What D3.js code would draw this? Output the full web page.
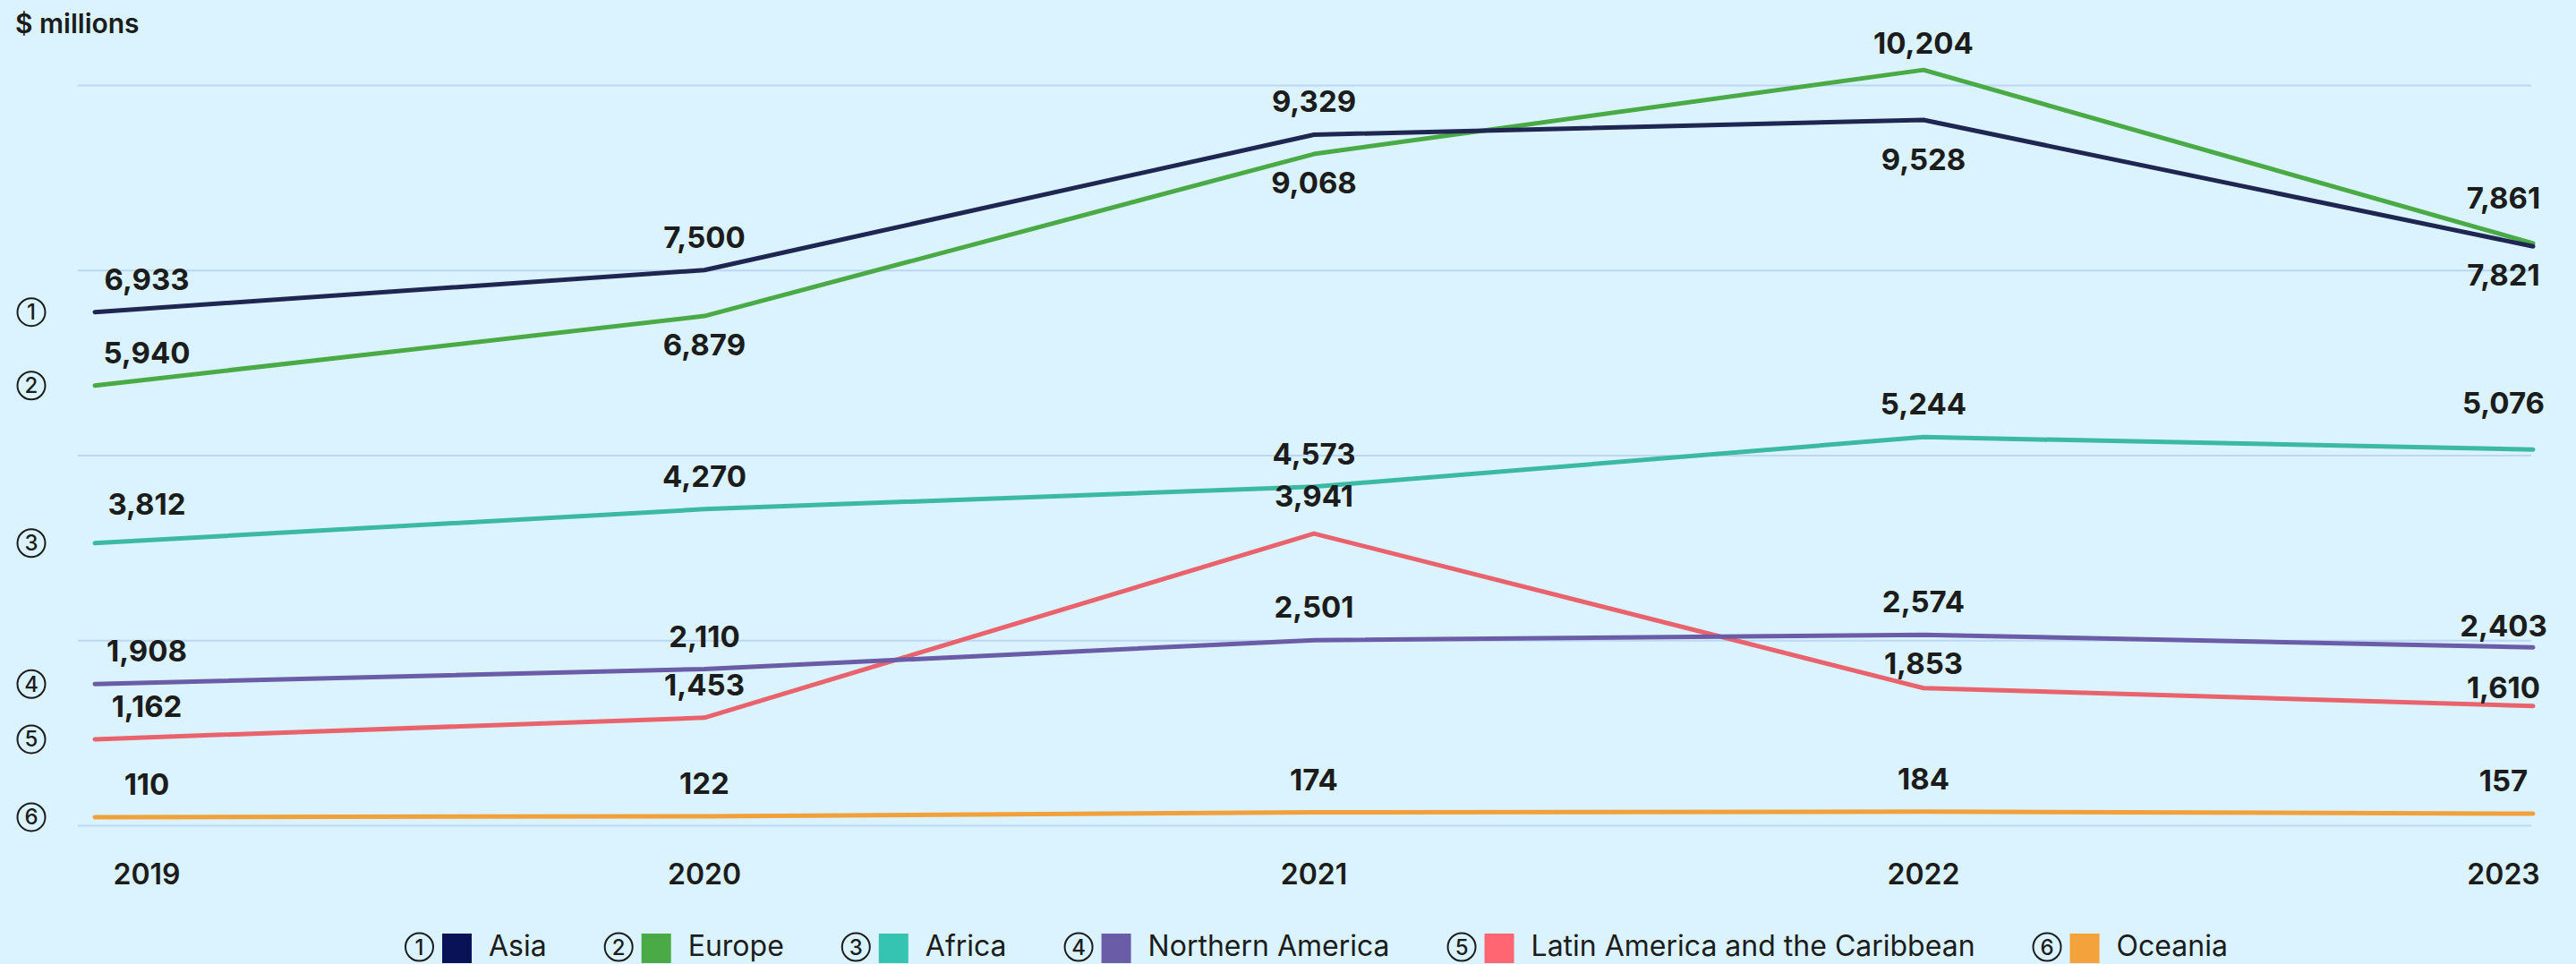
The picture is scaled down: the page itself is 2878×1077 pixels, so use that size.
<!DOCTYPE html>
<html>
<head>
<meta charset="utf-8">
<script src="https://cdn.jsdelivr.net/npm/d3@7"></script>
<style>
  html, body { margin: 0; padding: 0; background: #daf3fe; }
  svg { display: block; font-family: Inter, "Noto Sans", sans-serif; }
</style>
</head>
<body>
<div id="vis"></div>
<script>
// values in $ millions
const years = ["2019", "2020", "2021", "2022", "2023"];
const regions = ["Asia", "Europe", "Africa", "Northern America", "Latin America and the Caribbean", "Oceania"];
const asia = [6933, 7500, 9329, 9528, 7821];
const europe = [5940, 6879, 9068, 10204, 7861];
const africa = [3812, 4270, 4573, 5244, 5076];
const northAmerica = [1908, 2110, 2501, 2574, 2403];
const latinAmerica = [1162, 1453, 3941, 1853, 1610];
const oceania = [110, 122, 174, 184, 157];
const yTicks = [0, 2500, 5000, 7500, 10000];

const lineColors = ["#1f2651", "#4aaa46", "#3bb9a3", "#6a5ca6", "#e9636d", "#f2a13a"];
const swatchColors = ["#0a1257", "#4aaa46", "#35c4b2", "#6a5ca6", "#ff6671", "#f4a23b"];
// which value labels go under the line instead of above it
const labelsBelow = { "Asia": ["2022", "2023"], "Europe": ["2020", "2021"] };
// small label nudges (px) so labels clear the lines like the original
const labelNudge = {
    "Asia-2022": 12,
    "Europe-2022": 7,
    "Europe-2023": -14,
    "Africa-2019": -7,
    "Africa-2023": -15,
    "Northern America-2023": 13,
    "Latin America and the Caribbean-2021": -5,
    "Latin America and the Caribbean-2022": 9,
    "Latin America and the Caribbean-2023": 16
};

const series = [asia, europe, africa, northAmerica, latinAmerica, oceania].map((vals, i) => ({
    name: regions[i],
    num: i + 1,
    color: lineColors[i],
    swatch: swatchColors[i],
    values: vals.map((v, j) => ({ year: years[j], value: v }))
}));

const width = 2878, height = 1077;
const gridLeft = 87, gridRight = 2828;

const svg = d3.select("#vis")
    .append("svg")
    .attr("width", width)
    .attr("height", height);

svg.append("rect")
    .attr("width", width)
    .attr("height", height)
    .attr("fill", "#daf3fe");

var x = d3.scalePoint().domain(years).range([106, 2830]);
var y = d3.scaleLinear().domain([0, 10000]).range([922, 95]);

// gridlines
var yAxis = d3.axisLeft(y).tickValues(yTicks).tickSize(-(gridRight - gridLeft)).tickFormat("");
svg.append("g")
    .attr("class", "grid")
    .attr("transform", "translate(" + gridLeft + ",0)")
    .call(yAxis)
    .call(g => g.select(".domain").remove())
    .call(g => g.selectAll("line").attr("stroke", "#bdd6f3").attr("stroke-width", 2));

// unit label
svg.append("text")
    .attr("x", 17)
    .attr("y", 37)
    .attr("font-size", 30)
    .attr("font-weight", 600)
    .attr("fill", "#1c1c1c")
    .text("$ millions");

// edge labels are pulled inward
const labelX = d => Math.min(Math.max(x(d), 164), 2797);

// year labels
svg.append("g")
    .selectAll("text")
    .data(years)
    .enter()
    .append("text")
    .attr("x", d => labelX(d))
    .attr("y", 988)
    .attr("text-anchor", "middle")
    .attr("font-size", 32)
    .attr("font-weight", 600)
    .attr("fill", "#1c1c1c")
    .text(d => d);

// lines, Oceania first so Asia ends on top
const line = d3.line()
    .x(d => x(d.year))
    .y(d => y(d.value));

svg.append("g")
    .selectAll("path")
    .data(series.slice().reverse())
    .enter()
    .append("path")
    .attr("d", d => line(d.values))
    .attr("fill", "none")
    .attr("stroke", d => d.color)
    .attr("stroke-width", 5)
    .attr("stroke-linecap", "round")
    .attr("stroke-linejoin", "round");

// value labels
const fmt = d3.format(",");
series.forEach(s => {
    const below = labelsBelow[s.name] || [];
    svg.append("g")
        .selectAll("text")
        .data(s.values)
        .enter()
        .append("text")
        .attr("x", d => labelX(d.year))
        .attr("y", d => {
            const base = below.includes(d.year) ? y(d.value) + 44 : y(d.value) - 25;
            return base + (labelNudge[s.name + "-" + d.year] || 0);
        })
        .attr("text-anchor", "middle")
        .attr("font-size", 33)
        .attr("font-weight", 700)
        .attr("fill", "#1c1c1c")
        .text(d => fmt(d.value));
});

// numbered markers at the left end of each line
function marker(g, cx, cy, n) {
    g.append("circle")
        .attr("cx", cx)
        .attr("cy", cy)
        .attr("r", 15.5)
        .attr("fill", "none")
        .attr("stroke", "#1c1c1c")
        .attr("stroke-width", 2);
    g.append("text")
        .attr("x", cx)
        .attr("y", cy + 8.5)
        .attr("text-anchor", "middle")
        .attr("font-size", 24)
        .attr("font-weight", 500)
        .attr("fill", "#1c1c1c")
        .text(n);
}

const markers = svg.append("g");
series.forEach(s => marker(markers, 35, y(s.values[0].value), s.num));

// legend
const legend = svg.append("g");
let lx = 453;
series.forEach(s => {
    marker(legend, lx + 15.5, 1058, s.num);
    legend.append("rect")
        .attr("x", lx + 41)
        .attr("y", 1043)
        .attr("width", 33)
        .attr("height", 33)
        .attr("fill", s.swatch);
    const t = legend.append("text")
        .attr("x", lx + 93)
        .attr("y", 1068)
        .attr("font-size", 32)
        .attr("font-weight", 400)
        .attr("fill", "#1c1c1c")
        .text(s.name);
    lx += 93 + t.node().getComputedTextLength() + 65;
});
</script>
</body>
</html>
